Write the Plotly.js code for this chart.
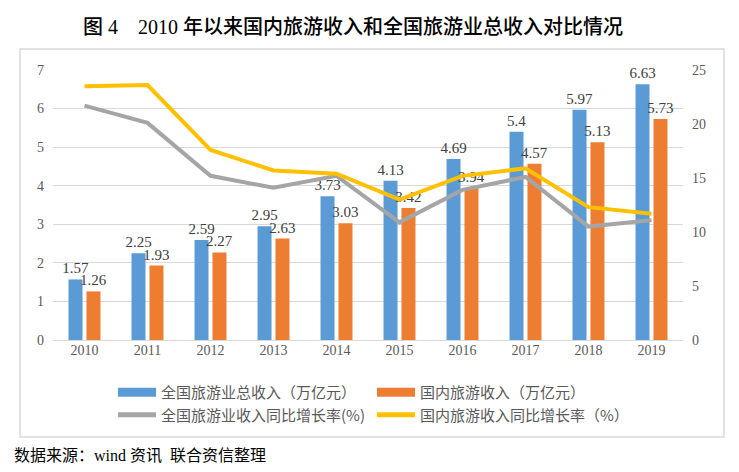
<!DOCTYPE html>
<html>
<head>
<meta charset="utf-8">
<script src="https://cdn.plot.ly/plotly-3.0.1.min.js"></script>
<style>html,body{margin:0;padding:0;background:#fff;}#chart{width:739px;height:472px;}</style>
</head>
<body>
<div id="chart"></div>
<script>
var years = ['2010','2011','2012','2013','2014','2015','2016','2017','2018','2019'];
var totalRevenue = [1.57, 2.25, 2.59, 2.95, 3.73, 4.13, 4.69, 5.4, 5.97, 6.63];
var domesticRevenue = [1.26, 1.93, 2.27, 2.63, 3.03, 3.42, 3.94, 4.57, 5.13, 5.73];
var totalGrowth = [21.7, 20.1, 15.2, 14.1, 15.2, 10.9, 13.9, 15.1, 10.5, 11.1];
var domesticGrowth = [23.5, 23.6, 17.6, 15.7, 15.4, 13.0, 15.2, 15.9, 12.3, 11.7];
var labelTotal = ['1.57','2.25','2.59','2.95','3.73','4.13','4.69','5.4','5.97','6.63'];
var labelDomestic = ['1.26','1.93','2.27','2.63','3.03','3.42','3.94','4.57','5.13','5.73'];
var names = ['全国旅游业总收入（万亿元）','国内旅游收入（万亿元）','全国旅游业收入同比增长率(%)','国内旅游收入同比增长率（%）'];

var C_BLUE = '#5B9BD5', C_ORANGE = '#ED7D31', C_GRAY = '#A5A5A5', C_YELLOW = '#FFC000';
var serif = 'Liberation Serif, Times New Roman, serif';
var cjk = 'Noto Sans CJK SC, sans-serif';
var labelFont = {family: serif, size: 15, color: '#404040'};

var traces = [
  {type:'bar', x: years, y: totalRevenue, name: names[0], marker:{color:C_BLUE}, text: labelTotal,
   textposition:'outside', textfont: labelFont, constraintext:'none', cliponaxis:false, showlegend:false, hoverinfo:'skip'},
  {type:'bar', x: years, y: domesticRevenue, name: names[1], marker:{color:C_ORANGE}, text: labelDomestic,
   textposition:'outside', textfont: labelFont, constraintext:'none', cliponaxis:false, showlegend:false, hoverinfo:'skip'},
  {type:'scatter', mode:'lines', x: years, y: totalGrowth, yaxis:'y2', name: names[2], line:{color:C_GRAY, width:4}, showlegend:false},
  {type:'scatter', mode:'lines', x: years, y: domesticGrowth, yaxis:'y2', name: names[3], line:{color:C_YELLOW, width:4}, showlegend:false},
  // legend entries
  {type:'scatter', mode:'lines', x:[null], y:[null], name: names[0], line:{color:C_BLUE, width:9}},
  {type:'scatter', mode:'lines', x:[null], y:[null], name: names[1], line:{color:C_ORANGE, width:9}},
  {type:'scatter', mode:'lines', x:[null], y:[null], name: names[2], line:{color:C_GRAY, width:5}},
  {type:'scatter', mode:'lines', x:[null], y:[null], name: names[3], line:{color:C_YELLOW, width:5}}
];

var L = 53, R = 683, T = 70, B = 340, W = 739, H = 472;
var pw = R - L, ph = B - T;
function px(x){ return (x - L) / pw; }
function py(y){ return (B - y) / ph; }

var layout = {
  width: W, height: H,
  margin: {l: L, r: W - R, t: T, b: H - B, pad: 0},
  paper_bgcolor: '#fff', plot_bgcolor: '#fff',
  title: {text: '图 4　2010 年以来国内旅游收入和全国旅游业总收入对比情况', font:{family: 'Liberation Serif, Noto Sans CJK SC, serif', size: 20, color:'#000', weight: 500},
          x: 352 / W, xanchor:'center', y: 1 - 27 / H, yanchor:'middle', xref:'paper', yref:'container'},
  barmode: 'group', bargap: 0.43, bargroupgap: 0.22,
  xaxis: {type:'category', tickfont:{family: serif, size: 14, color:'#595959'}, showline:false, showgrid:false, ticks:'', fixedrange:true},
  yaxis: {range:[0,7], dtick:1, tick0:0, showgrid:true, gridcolor:'#D9D9D9', gridwidth:1, zeroline:true, zerolinecolor:'#D9D9D9',
          tickfont:{family: serif, size: 14, color:'#595959'}, ticks:'', showline:false, ticklabelstandoff: 8},
  yaxis2: {range:[0,25], dtick:5, tick0:0, overlaying:'y', side:'right', showgrid:false, zeroline:false,
           tickfont:{family: serif, size: 14, color:'#595959'}, ticks:'', showline:false, ticklabelstandoff: 8},
  showlegend: true,
  legend: {orientation:'h', x: px(113), xanchor:'left', y: py(376), yanchor:'top', traceorder:'normal',
           font:{family: cjk, size: 15, color:'#595959'}, itemwidth: 38, entrywidth: 206, entrywidthmode:'pixels',
           bgcolor:'rgba(0,0,0,0)', tracegroupgap: 0, itemclick:false},
  shapes: [
    {type:'rect', xref:'paper', yref:'paper', x0: px(20), x1: px(724), y0: py(437), y1: py(49), line:{color:'#D9D9D9', width:1.5}, fillcolor:'rgba(0,0,0,0)', layer:'below'}
  ],
  annotations: [
    {xref:'paper', yref:'paper', x: px(12), y: py(455), xanchor:'left', yanchor:'middle', showarrow:false,
     text:'数据来源：wind 资讯  联合资信整理', font:{family: 'Liberation Serif, Noto Sans CJK SC, serif', size: 16, color:'#000'}}
  ]
};

Plotly.newPlot('chart', traces, layout, {displayModeBar:false, staticPlot:true});
</script>
</body>
</html>
